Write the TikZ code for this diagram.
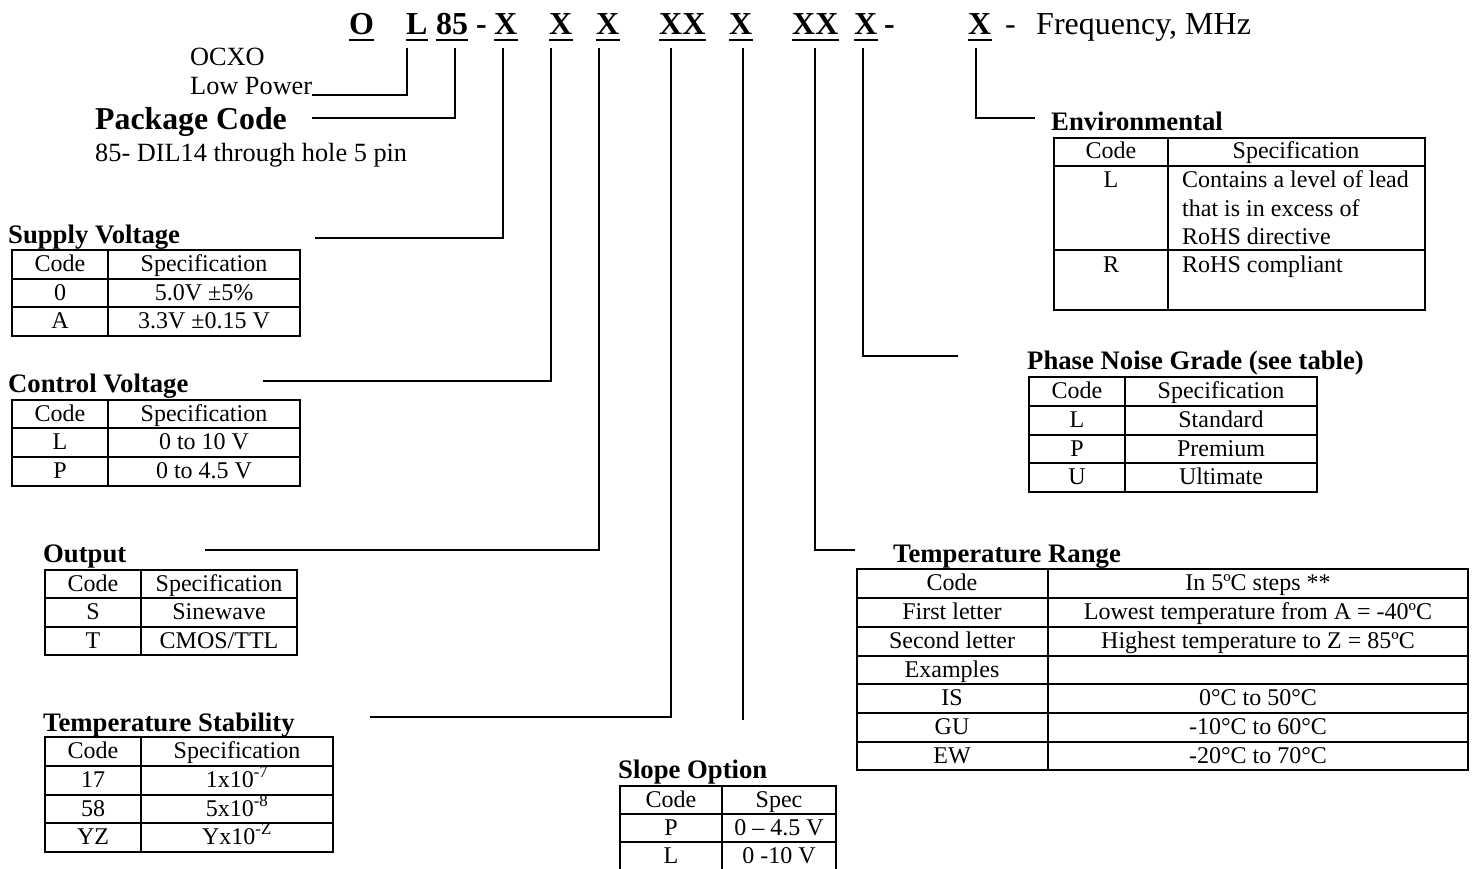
\documentclass[tikz,border=0pt]{standalone}
\usepackage{fontspec}
\setmainfont{Liberation Serif}
\newcommand\hdul[1]{\draw[uline] ([yshift=-5pt]#1.base west) -- ([yshift=-5pt]#1.base east);}
\begin{document}
\begin{tikzpicture}[x=1pt,y=-1pt,
 tx/.style={inner sep=0pt, anchor=base, font=\fontsize{24}{28}\selectfont},
 txl/.style={tx, anchor=base west},
 hd/.style={inner sep=0pt, anchor=base west, font=\fontsize{26.7}{30}\selectfont\bfseries},
 note/.style={inner sep=0pt, anchor=base west, font=\fontsize{26.3}{30}\selectfont},
 hdr/.style={inner sep=0pt, anchor=base west, font=\fontsize{32}{38}\selectfont\bfseries},
 hdrr/.style={inner sep=0pt, anchor=base west, font=\fontsize{32}{38}\selectfont},
 grid/.style={line width=1.8pt},
 conn/.style={line width=1.8pt},
 uline/.style={line width=2.2pt}]
\useasboundingbox[fill=white] (0,0) rectangle (1474,869);

% ---------- header code ----------
\node[hdr] (hO) at (349,35) {O};
\node[hdr] (hL) at (406,35) {L};
\node[hdr] (h85) at (436,35) {85};
\node[hdr] (hd1) at (476,35) {-};
\node[hdr] (hX1) at (494,35) {X};
\node[hdr] (hX2) at (549,35) {X};
\node[hdr] (hX3) at (596,35) {X};
\node[hdr] (hXX1) at (659,35) {XX};
\node[hdr] (hX4) at (729,35) {X};
\node[hdr] (hXX2) at (792,35) {XX};
\node[hdr] (hX5) at (854,35) {X};
\node[hdr] (hd2) at (884,35) {-};
\node[hdr] (hX6) at (968,35) {X};
\node[hdrr] (hd3) at (1005,35) {-};
\node[hdrr] (hfreq) at (1036,35) {Frequency, MHz};
\hdul{hO}\hdul{hL}\hdul{h85}\hdul{hX1}\hdul{hX2}\hdul{hX3}
\hdul{hXX1}\hdul{hX4}\hdul{hXX2}\hdul{hX5}\hdul{hX6}

% ---------- left notes ----------
\node[note] (ocxo) at (190,66) {OCXO};
\node[note] (lowp) at (190,95) {Low Power};
\node[inner sep=0pt, anchor=base west, font=\fontsize{31.8}{36}\selectfont\bfseries] (pkH) at (95,130) {Package Code};
\node[note] (pkD) at (95,162) {85- DIL14 through hole 5 pin};

% ---------- connector ends ----------
\coordinate (sL) at (407,48);
\coordinate (s85) at (455,48);
\coordinate (sX1) at (503,48);
\coordinate (sX2) at (551,48);
\coordinate (sX3) at (599,48);
\coordinate (sXX1) at (671,48);
\coordinate (sX4) at (743,48);
\coordinate (sXX2) at (815,48);
\coordinate (sX5) at (863,48);
\coordinate (sX6) at (976,48);
\coordinate (e85) at (312,118);
\coordinate (eX1) at (315,238);
\coordinate (eX2) at (263,381);
\coordinate (eX3) at (205,550);
\coordinate (eXX1) at (370,717);
\coordinate (eX4) at (743,720);
\coordinate (eXX2) at (855,550);
\coordinate (eX5) at (958,356);
\coordinate (eX6) at (1035,118);

\draw[conn] (sL) |- (lowp.base east);
\draw[conn] (s85) |- (e85);
\draw[conn] (sX1) |- (eX1);
\draw[conn] (sX2) |- (eX2);
\draw[conn] (sX3) |- (eX3);
\draw[conn] (sXX1) |- (eXX1);
\draw[conn] (sX4) -- (eX4);
\draw[conn] (sXX2) |- (eXX2);
\draw[conn] (sX5) |- (eX5);
\draw[conn] (sX6) |- (eX6);

% ---------- Supply Voltage ----------
\node[hd] (svH) at (8,243) {Supply Voltage};
\draw[grid] (12,250) rectangle (300,336) (108,250) -- (108,336) (12,279) -- (300,279) (12,307) -- (300,307);
\node[tx] (sv11) at (60,271) {Code};
\node[tx] (sv12) at (204,271) {Specification};
\node[tx] (sv21) at (60,300) {0};
\node[tx] (sv22) at (204,300) {5.0V ±5\%};
\node[tx] (sv31) at (60,328) {A};
\node[tx] (sv32) at (204,328) {3.3V ±0.15 V};

% ---------- Control Voltage ----------
\node[hd] (cvH) at (8,392) {Control Voltage};
\draw[grid] (12,400) rectangle (300,486) (108,400) -- (108,486) (12,428) -- (300,428) (12,457) -- (300,457);
\node[tx] (cv11) at (60,421) {Code};
\node[tx] (cv12) at (204,421) {Specification};
\node[tx] (cv21) at (60,449) {L};
\node[tx] (cv22) at (204,449) {0 to 10 V};
\node[tx] (cv31) at (60,478) {P};
\node[tx] (cv32) at (204,478) {0 to 4.5 V};

% ---------- Output ----------
\node[hd] (opH) at (43,562) {Output};
\draw[grid] (45,570) rectangle (297,655) (141,570) -- (141,655) (45,598) -- (297,598) (45,627) -- (297,627);
\node[tx] (op11) at (93,591) {Code};
\node[tx] (op12) at (219,591) {Specification};
\node[tx] (op21) at (93,619) {S};
\node[tx] (op22) at (219,619) {Sinewave};
\node[tx] (op31) at (93,648) {T};
\node[tx] (op32) at (219,648) {CMOS/TTL};

% ---------- Temperature Stability ----------
\node[hd] (tsH) at (43,731) {Temperature Stability};
\draw[grid] (45,737) rectangle (333,852) (141,737) -- (141,852) (45,766) -- (333,766) (45,795) -- (333,795) (45,823) -- (333,823);
\node[tx] (ts11) at (93,758) {Code};
\node[tx] (ts12) at (237,758) {Specification};
\node[tx] (ts21) at (93,787) {17};
\node[tx] (ts22) at (237,787) {1x10\textsuperscript{-7}};
\node[tx] (ts31) at (93,816) {58};
\node[tx] (ts32) at (237,816) {5x10\textsuperscript{-8}};
\node[tx] (ts41) at (93,844) {YZ};
\node[tx] (ts42) at (237,844) {Yx10\textsuperscript{-Z}};

% ---------- Slope Option ----------
\node[hd] (soH) at (618,778) {Slope Option};
\draw[grid] (620,872) -- (620,786) -- (836,786) -- (836,872) (722,786) -- (722,872) (620,814) -- (836,814) (620,842) -- (836,842);
\node[tx] (so11) at (671,807) {Code};
\node[tx] (so12) at (779,807) {Spec};
\node[tx] (so21) at (671,835) {P};
\node[tx] (so22) at (779,835) {0 – 4.5 V};
\node[tx] (so31) at (671,863) {L};
\node[tx] (so32) at (779,863) {0 -10 V};

% ---------- Environmental ----------
\node[hd] (enH) at (1051,131) {Environmental};
\draw[grid] (1054,138) rectangle (1425,310) (1168,138) -- (1168,310) (1054,166) -- (1425,166) (1054,250) -- (1425,250);
\node[tx] (en11) at (1111,159) {Code};
\node[tx] (en12) at (1296,159) {Specification};
\node[tx] (en21) at (1111,188) {L};
\node[txl] (en22a) at (1182,188) {Contains a level of lead};
\node[txl] (en22b) at (1182,216) {that is in excess of};
\node[txl] (en22c) at (1182,244) {RoHS directive};
\node[tx] (en31) at (1111,272) {R};
\node[txl] (en32) at (1182,272) {RoHS compliant};

% ---------- Phase Noise Grade ----------
\node[hd] (pnH) at (1027,369) {Phase Noise Grade (see table)};
\draw[grid] (1029,377) rectangle (1317,492) (1125,377) -- (1125,492) (1029,406) -- (1317,406) (1029,435) -- (1317,435) (1029,463) -- (1317,463);
\node[tx] (pn11) at (1077,398) {Code};
\node[tx] (pn12) at (1221,398) {Specification};
\node[tx] (pn21) at (1077,427) {L};
\node[tx] (pn22) at (1221,427) {Standard};
\node[tx] (pn31) at (1077,456) {P};
\node[tx] (pn32) at (1221,456) {Premium};
\node[tx] (pn41) at (1077,484) {U};
\node[tx] (pn42) at (1221,484) {Ultimate};

% ---------- Temperature Range ----------
\node[hd] (trH) at (893,562) {Temperature Range};
\draw[grid] (857,569) rectangle (1468,770) (1048,569) -- (1048,770)
  (857,598) -- (1468,598) (857,627) -- (1468,627) (857,656) -- (1468,656)
  (857,684) -- (1468,684) (857,713) -- (1468,713) (857,742) -- (1468,742);
\node[tx] (tr11) at (952,590) {Code};
\node[tx] (tr12) at (1258,590) {In 5ºC steps **};
\node[tx] (tr21) at (952,619) {First letter};
\node[tx] (tr22) at (1258,619) {Lowest temperature from A = -40ºC};
\node[tx] (tr31) at (952,648) {Second letter};
\node[tx] (tr32) at (1258,648) {Highest temperature to Z = 85ºC};
\node[tx] (tr41) at (952,677) {Examples};
\node[tx] (tr51) at (952,705) {IS};
\node[tx] (tr52) at (1258,705) {0°C to 50°C};
\node[tx] (tr61) at (952,734) {GU};
\node[tx] (tr62) at (1258,734) {-10°C to 60°C};
\node[tx] (tr71) at (952,763) {EW};
\node[tx] (tr72) at (1258,763) {-20°C to 70°C};
\end{tikzpicture}
\end{document}
